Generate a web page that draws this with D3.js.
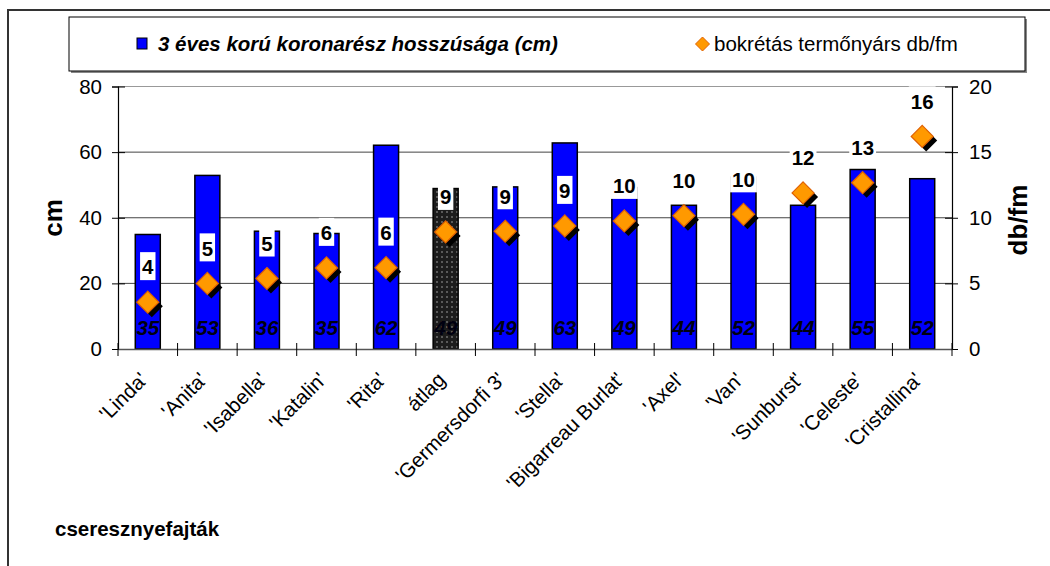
<!DOCTYPE html>
<html><head><meta charset="utf-8">
<script src="https://cdn.jsdelivr.net/npm/d3@7"></script>
<style>
html,body{margin:0;padding:0;background:#fff;}
svg{display:block;font-family:"Liberation Sans",Arial,sans-serif;}
</style></head>
<body>
<svg id="chart" width="1050" height="566"></svg>
<script>
const categories = ["'Linda'", "'Anita'", "'Isabella'", "'Katalin'", "'Rita'", "átlag", "'Germersdorfi 3'", "'Stella'", "'Bigarreau Burlat'", "'Axel'", "'Van'", "'Sunburst'", "'Celeste'", "'Cristallina'"];
const crownLength = [34.9, 52.9, 35.9, 35.2, 62.1, 48.9, 49.4, 62.8, 49.2, 43.8, 52.4, 43.8, 54.7, 51.9];
const spurCount = [3.57, 5.0, 5.37, 6.18, 6.2, 8.92, 8.97, 9.38, 9.76, 10.16, 10.26, 11.89, 12.67, 16.2];
const leftTicks = [0, 20, 40, 60, 80];
const rightTicks = [0, 5, 10, 15, 20];
const averageCategory = "átlag";
const seriesNames = ["3 éves korú koronarész hosszúsága (cm)", "bokrétás termőnyárs db/fm"];
const leftTitle = "cm", rightTitle = "db/fm", xTitle = "cseresznyefajták";

const svg = d3.select("#chart");
const FS = 20.5;

// outer frame
svg.append("path").attr("d","M8,566 V10 H1050").attr("fill","none").attr("stroke","#333").attr("stroke-width",2);

// pattern for average bar
const defs = svg.append("defs");
const pat = defs.append("pattern").attr("id","dots").attr("width",5).attr("height",5).attr("patternUnits","userSpaceOnUse");
pat.append("rect").attr("width",5).attr("height",5).attr("fill","#1c1c1c");
pat.append("rect").attr("x",1).attr("y",1).attr("width",2).attr("height",2).attr("fill","#5a5a5a");

const x = d3.scaleBand().domain(categories).range([118, 952]).padding(0);
const yL = d3.scaleLinear().domain([0, 80]).range([349, 86.5]);
const yR = d3.scaleLinear().domain([0, 20]).range([349, 86.5]);

// gridlines
svg.append("g").selectAll("line").data(leftTicks.filter(t=>t>0)).join("line")
  .attr("x1",118).attr("x2",952).attr("y1",d=>yL(d)).attr("y2",d=>yL(d))
  .attr("stroke",d=>d===80?"#999":"#444").attr("stroke-width",1);

// bars
const bw = 25;
svg.append("g").selectAll("rect").data(categories).join("rect")
  .attr("x",(d)=>x(d)+x.bandwidth()/2-bw/2)
  .attr("y",(d,i)=>yL(crownLength[i]))
  .attr("width",bw)
  .attr("height",(d,i)=>yL(0)-yL(crownLength[i]))
  .attr("fill",d=>d===averageCategory?"url(#dots)":"#0000ff")
  .attr("stroke","#000").attr("stroke-width",1.5);

// bar labels (bottom)
svg.append("g").selectAll("text").data(categories).join("text")
  .attr("x",d=>x(d)+x.bandwidth()/2)
  .attr("y",335)
  .attr("text-anchor","middle")
  .attr("font-size",FS).attr("font-weight","bold").attr("font-style","italic")
  .attr("fill","#000010")
  .text((d,i)=>d3.format(".0f")(crownLength[i]));

// axes
const gL = svg.append("g").attr("transform","translate(118,0)")
  .call(d3.axisLeft(yL).tickValues(leftTicks).tickSize(6).tickPadding(10));
gL.selectAll(".tick line").attr("x1",-6).attr("x2",7);
const gR = svg.append("g").attr("transform","translate(952,0)")
  .call(d3.axisRight(yR).tickValues(rightTicks).tickSize(6).tickPadding(11));
gR.selectAll(".tick line").attr("x1",-7).attr("x2",6);
const gX = svg.append("g").attr("transform","translate(0,349)")
  .call(d3.axisBottom(x).tickSize(0).tickFormat(""));
// category boundary ticks
svg.append("g").selectAll("line").data(d3.range(categories.length+1)).join("line")
  .attr("x1",i=>118+i*x.bandwidth()).attr("x2",i=>118+i*x.bandwidth())
  .attr("y1",343).attr("y2",356).attr("stroke","#000").attr("stroke-width",1);
[gL,gR,gX].forEach(g=>{
  g.select(".domain").attr("stroke","#000").attr("stroke-width",1.2);
  g.selectAll(".tick line").attr("stroke","#000");
  g.selectAll(".tick text").attr("font-size",FS).attr("fill","#000").attr("font-family","Liberation Sans, Arial, sans-serif");
});
gX.select(".domain").attr("stroke","#555").attr("stroke-width",1.5);

// x labels
svg.append("g").selectAll("text").data(categories).join("text")
  .attr("transform",d=>`translate(${x(d)+x.bandwidth()/2+1},381) rotate(-45)`)
  .attr("text-anchor","end").attr("font-size",FS).attr("fill","#000")
  .text(d=>d);

// diamonds
const dsz = 11;
const diamond = (cx,cy,s)=>`M${cx},${cy-s} L${cx+s},${cy} L${cx},${cy+s} L${cx-s},${cy} Z`;
const gD = svg.append("g");
gD.selectAll("path.sh").data(categories).join("path").attr("class","sh")
  .attr("d",(d,i)=>diamond(x(d)+x.bandwidth()/2+4, yR(spurCount[i])+4, dsz))
  .attr("fill","#000");
gD.selectAll("path.dm").data(categories).join("path").attr("class","dm")
  .attr("d",(d,i)=>diamond(x(d)+x.bandwidth()/2, yR(spurCount[i]), dsz))
  .attr("fill","#ff9900").attr("stroke","#e06000").attr("stroke-width",1.2);

// top labels with white boxes
const gT = svg.append("g");
categories.forEach((d,i)=>{
  const cx = x(d)+x.bandwidth()/2, cy = yR(spurCount[i]) - 35;
  const t = gT.append("text").attr("x",cx).attr("y",cy+7.3).attr("text-anchor","middle")
    .attr("font-size",FS).attr("font-weight","bold").attr("fill","#000")
    .text(d3.format(".0f")(spurCount[i]));
  const w = t.node().getComputedTextLength()+4;
  gT.insert("rect","text").attr("x",cx-w/2).attr("y",cy-15).attr("width",w).attr("height",28).attr("fill","#fff");
});
gT.selectAll("text").raise();

// axis titles
svg.append("text").attr("transform","translate(62,218) rotate(-90)").attr("text-anchor","middle")
  .attr("font-size",26).attr("font-weight","bold").text(leftTitle);
svg.append("text").attr("transform","translate(1027,220) rotate(-90)").attr("text-anchor","middle")
  .attr("font-size",26).attr("font-weight","bold").text(rightTitle);
svg.append("text").attr("x",55).attr("y",536).attr("font-size",FS).attr("font-weight","bold").text(xTitle);

// legend
const lg = svg.append("g");
lg.append("rect").attr("x",71).attr("y",19).attr("width",956).attr("height",54).attr("fill","#888");
lg.append("rect").attr("x",69).attr("y",17).attr("width",956).attr("height",54).attr("fill","#fff").attr("stroke","#000").attr("stroke-width",1);
lg.append("rect").attr("x",137).attr("y",38).attr("width",10).attr("height",11).attr("fill","#0000ff").attr("stroke","#000").attr("stroke-width",1);
lg.append("text").attr("x",158).attr("y",50.5).attr("font-size",FS).attr("font-weight","bold").attr("font-style","italic").text(seriesNames[0]);
lg.append("path").attr("d",diamond(702.5,44,7)).attr("fill","#ff9900").attr("stroke","#e06000").attr("stroke-width",1);
lg.append("text").attr("x",714).attr("y",50.5).attr("font-size",FS).text(seriesNames[1]);
</script>
</body></html>
